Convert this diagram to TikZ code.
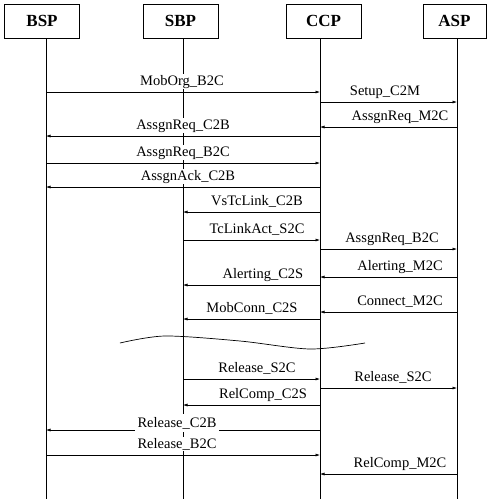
\documentclass[tikz,border=0pt]{standalone}
\usepackage{fontspec}
\setmainfont{Liberation Serif}
\usepackage{tikz}
\usetikzlibrary{arrows.meta,calc}
\tikzset{
  entity/.style={draw=black,line width=0.8pt,minimum width=75pt,minimum height=34pt,inner sep=0pt,font=\fontsize{17}{18}\selectfont\bfseries},
  life/.style={line width=0.8pt,draw=black},
  msg/.style={-{Latex[length=4.5pt,width=3pt]},line width=0.6pt,draw=black},
  msgtext/.style={inner sep=1pt,fill=white,anchor=base,font=\fontsize{14.5}{15}\selectfont},
  gap/.style={line width=0.7pt,draw=black}
}
\begin{document}
\begin{tikzpicture}[x=1pt,y=-1pt]
  \useasboundingbox (0,0) rectangle (487,499);
  % participants
  \node[entity] (bsp) at (42,21) {BSP};
  \node[entity] (sbp) at (180.5,21) {SBP};
  \node[entity] (ccp) at (323.5,21) {CCP};
  \node[entity,minimum width=63pt] (asp) at (454.5,21) {ASP};
  \coordinate (bspT) at (46,38);  \coordinate (bspB) at (46,499);
  \coordinate (sbpT) at (183,38); \coordinate (sbpB) at (183,499);
  \coordinate (ccpT) at (320,38); \coordinate (ccpB) at (320,499);
  \coordinate (aspT) at (457,38); \coordinate (aspB) at (457,499);
  \draw[life] (bspT) -- (bspB);
  \draw[life] (sbpT) -- (sbpB);
  \draw[life] (ccpT) -- (ccpB);
  \draw[life] (aspT) -- (aspB);
  % call set-up
  \draw[msg] (bspT |- 0,92) -- (ccpT |- 0,92);
  \node[msgtext] (m1) at (182,85) {MobOrg\_B2C};
  \draw[msg] (ccpT |- 0,102) -- (aspT |- 0,102);
  \node[msgtext] (m2) at (385,95) {Setup\_C2M};
  \draw[msg] (aspT |- 0,127) -- (ccpT |- 0,127);
  \node[msgtext] (m3) at (400,120) {AssgnReq\_M2C};
  \draw[msg] (ccpT |- 0,136) -- (bspT |- 0,136);
  \node[msgtext] (m4) at (183,129) {AssgnReq\_C2B};
  \draw[msg] (bspT |- 0,163) -- (ccpT |- 0,163);
  \node[msgtext] (m5) at (183,156) {AssgnReq\_B2C};
  \draw[msg] (ccpT |- 0,187) -- (bspT |- 0,187);
  \node[msgtext] (m6) at (188,180) {AssgnAck\_C2B};
  \draw[msg] (ccpT |- 0,212) -- (sbpT |- 0,212);
  \node[msgtext] (m7) at (257,205) {VsTcLink\_C2B};
  \draw[msg] (sbpT |- 0,240) -- (ccpT |- 0,240);
  \node[msgtext] (m8) at (257,233) {TcLinkAct\_S2C};
  \draw[msg] (ccpT |- 0,249) -- (aspT |- 0,249);
  \node[msgtext] (m9) at (392,242) {AssgnReq\_B2C};
  \draw[msg] (aspT |- 0,277) -- (ccpT |- 0,277);
  \node[msgtext] (m10) at (400,270) {Alerting\_M2C};
  \draw[msg] (ccpT |- 0,285) -- (sbpT |- 0,285);
  \node[msgtext] (m11) at (263,278) {Alerting\_C2S};
  \draw[msg] (aspT |- 0,312) -- (ccpT |- 0,312);
  \node[msgtext] (m12) at (400,305) {Connect\_M2C};
  \draw[msg] (ccpT |- 0,319) -- (sbpT |- 0,319);
  \node[msgtext] (m13) at (252,312) {MobConn\_C2S};
  % time break
  \draw[gap] plot[smooth] coordinates {(120,343) (165,336) (240,341) (310,349) (365,343)};
  % release
  \draw[msg] (sbpT |- 0,379) -- (ccpT |- 0,379);
  \node[msgtext] (m14) at (257,372) {Release\_S2C};
  \draw[msg] (ccpT |- 0,388) -- (aspT |- 0,388);
  \node[msgtext] (m15) at (393,381) {Release\_S2C};
  \draw[msg] (ccpT |- 0,405) -- (sbpT |- 0,405);
  \node[msgtext] (m16) at (263,398) {RelComp\_C2S};
  \draw[msg] (ccpT |- 0,430) -- (bspT |- 0,430);
  \node[msgtext,inner sep=3pt] (m17) at (177,427) {Release\_C2B};
  \draw[msg] (bspT |- 0,455) -- (ccpT |- 0,455);
  \node[msgtext] (m18) at (177,448) {Release\_B2C};
  \draw[msg] (aspT |- 0,474) -- (ccpT |- 0,474);
  \node[msgtext] (m19) at (400,467) {RelComp\_M2C};
\end{tikzpicture}
\end{document}
